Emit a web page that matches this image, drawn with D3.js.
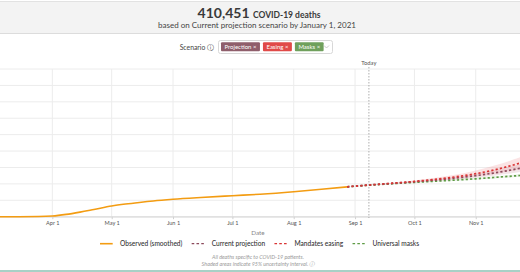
<!DOCTYPE html>
<html>
<head>
<meta charset="utf-8">
<script src="https://cdn.jsdelivr.net/npm/d3@7"></script>
<style>
  html, body { margin: 0; padding: 0; background: #fff; }
  svg { display: block; font-family: Lato, "Noto Sans", sans-serif; }
</style>
</head>
<body>
<svg id="chart" width="520" height="272"></svg>
<script>
// ---------- data ----------
const headlineValue = "410,451";
const headlineUnit = "COVID-19 deaths";
const subtitle = "based on Current projection scenario by January 1, 2021";
const scenarioLabels = ["Projection", "Easing", "Masks"];
const scenarioColors = ["#8f5e6b", "#e04a48", "#6fa05c"];
const todayDate = "2020-09-08";

const observedDates = ["2020-03-01","2020-03-15","2020-03-25","2020-04-01","2020-04-08","2020-04-15","2020-04-22","2020-05-01","2020-05-08","2020-05-15","2020-05-22","2020-06-01","2020-06-15","2020-07-01","2020-07-15","2020-08-01","2020-08-15","2020-08-28"];
const observedValues = [0, 100, 800, 4000, 14000, 28000, 44000, 65000, 77000, 87000, 96000, 106000, 117000, 128000, 137000, 152000, 167000, 182000];

const projDates = ["2020-08-28","2020-09-08","2020-09-20","2020-10-01","2020-10-10","2020-10-20","2020-11-01","2020-11-10","2020-11-20","2020-11-30"];
const currentValues = [182000, 193000, 203000, 213000, 222000, 233000, 250000, 266000, 287000, 312000];
const currentLower  = [182000, 192000, 201000, 209000, 216000, 225000, 238000, 250000, 266000, 285000];
const currentUpper  = [182000, 194000, 205000, 218000, 228000, 242000, 264000, 284000, 310000, 342000];
const easingValues  = [182000, 193000, 204000, 215000, 226000, 240000, 262000, 284000, 315000, 350000];
const easingLower   = [182000, 192000, 201000, 210000, 218000, 228000, 245000, 260000, 282000, 305000];
const easingUpper   = [182000, 194000, 207000, 221000, 234000, 252000, 282000, 310000, 348000, 395000];
const masksValues   = [182000, 192000, 201000, 209000, 215000, 222000, 231000, 239000, 248000, 257000];
const masksLower    = [182000, 191000, 199000, 206000, 211000, 217000, 225000, 232000, 240000, 248000];
const masksUpper    = [182000, 193000, 203000, 212000, 219000, 227000, 237000, 246000, 256000, 267000];

const yTicks = [0, 100000, 200000, 300000, 400000, 500000, 600000, 700000, 800000, 900000];
const legendLabels = ["Observed (smoothed)", "Current projection", "Mandates easing", "Universal masks"];
const legendColors = ["#f39c12", "#8c4a5c", "#d93434", "#5e9b45"];
const footnotes = ["All deaths specific to COVID-19 patients.", "Shaded areas indicate 95% uncertainty interval. \u24D8"];

// ---------- setup ----------
const parse = d3.timeParse("%Y-%m-%d");
const svg = d3.select("#chart");
const W = 520;

svg.append("rect").attr("width", 520).attr("height", 272).attr("fill", "#fff");

// header band
svg.append("rect").attr("x", 0).attr("y", 2).attr("width", W).attr("height", 31)
  .attr("fill", "#f3f3f3");
svg.append("line").attr("x1", 0).attr("x2", W).attr("y1", 1.5).attr("y2", 1.5).attr("stroke", "#e2e2e2");
svg.append("line").attr("x1", 0).attr("x2", W).attr("y1", 33.5).attr("y2", 33.5).attr("stroke", "#dcdcdc");

const title = svg.append("text").attr("x", 259).attr("y", 17.5).attr("text-anchor", "middle").attr("fill", "#3a3a3a");
title.append("tspan").attr("font-size", 14).attr("font-weight", 700).text(headlineValue + " ");
title.append("tspan").attr("font-size", 8.5).attr("font-weight", 700).text(headlineUnit);
svg.append("text").attr("x", 257).attr("y", 28).attr("text-anchor", "middle")
  .attr("font-size", 8).attr("fill", "#444").text(subtitle);

// scenario selector
svg.append("text").attr("x", 214).attr("y", 49.5).attr("text-anchor", "end")
  .attr("font-size", 6.8).attr("fill", "#444").text("Scenario \u24D8");
svg.append("rect").attr("x", 218.5).attr("y", 40.5).attr("width", 114).attr("height", 13).attr("rx", 2)
  .attr("fill", "#fff").attr("stroke", "#d8d8d8");
let bx = 221;
scenarioLabels.forEach((lab, i) => {
  const g = svg.append("g");
  const t = g.append("text").attr("x", bx + 3.5).attr("y", 49.2).attr("font-size", 6).attr("fill", "#fff").text(lab + " \u00D7");
  const w = t.node().getComputedTextLength() + 7;
  g.insert("rect", "text").attr("x", bx).attr("y", 42.3).attr("width", w).attr("height", 9).attr("rx", 1).attr("fill", scenarioColors[i]);
  bx += w + 3;
});
svg.append("path").attr("d", "M324,45.5 L326.5,48 L329,45.5").attr("fill", "none").attr("stroke", "#bbb").attr("stroke-width", 0.8);

// ---------- scales ----------
const x = d3.scaleTime().domain([parse("2020-03-01"), parse("2020-12-01")]).range([-9, 535.1]);
const y = d3.scaleLinear().domain([0, 900000]).range([216.7, 69]);

const plot = svg.append("g");
svg.append("clipPath").attr("id", "clip").append("rect").attr("x", 0).attr("y", 60).attr("width", W).attr("height", 160);

// grid
const monthTicks = x.ticks(d3.timeMonth.every(1)).filter(d => x(d) > 0 && x(d) < W);
plot.selectAll(".hg").data(yTicks).join("line")
  .attr("x1", 0).attr("x2", W).attr("y1", d => y(d)).attr("y2", d => y(d))
  .attr("stroke", "#ececec").attr("stroke-width", 1);
plot.selectAll(".vg").data(monthTicks).join("line")
  .attr("x1", d => x(d)).attr("x2", d => x(d)).attr("y1", y(900000)).attr("y2", y(0))
  .attr("stroke", "#ececec").attr("stroke-width", 1);

// axis
const axis = d3.axisBottom(x).tickValues(monthTicks).tickFormat(d3.timeFormat("%b %-d")).tickSize(2.5).tickPadding(2.2);
const ax = svg.append("g").attr("transform", `translate(0,${y(0)})`).call(axis);
ax.select(".domain").remove();
ax.selectAll(".tick line").attr("stroke", "#d0d0d0");
ax.selectAll(".tick text").attr("font-size", 5.6).attr("fill", "#555").attr("font-family", "Lato, sans-serif");
svg.append("line").attr("x1", 0).attr("x2", W).attr("y1", y(0) + 0.3).attr("y2", y(0) + 0.3)
  .attr("stroke", "#d4d4d4").attr("stroke-width", 1.2);

svg.append("text").attr("x", 258).attr("y", 234.5).attr("text-anchor", "middle")
  .attr("font-size", 6.3).attr("fill", "#888").text("Date");

// today line
const tx = x(parse(todayDate));
svg.append("line").attr("x1", tx).attr("x2", tx).attr("y1", 67).attr("y2", 218)
  .attr("stroke", "#999").attr("stroke-width", 0.8).attr("stroke-dasharray", "1.5,1.5");
svg.append("text").attr("x", tx).attr("y", 65).attr("text-anchor", "middle")
  .attr("font-size", 5.8).attr("fill", "#555").text("Today");

// ---------- series ----------
const marks = svg.append("g").attr("clip-path", "url(#clip)");
const pd = projDates.map(parse);
const area = (lo, hi) => d3.area().x((d, i) => x(pd[i])).y0((d, i) => y(lo[i])).y1((d, i) => y(hi[i])).curve(d3.curveMonotoneX)(lo);
marks.append("path").attr("d", area(masksLower, masksUpper)).attr("fill", "#9cc48a").attr("opacity", 0.18);
marks.append("path").attr("d", area(currentLower, currentUpper)).attr("fill", "#c98a96").attr("opacity", 0.22);
marks.append("path").attr("d", area(easingLower, easingUpper)).attr("fill", "#ef8f95").attr("opacity", 0.25);

const od = observedDates.map(parse);
const lineGen = (dates) => d3.line().x((d, i) => x(dates[i])).y(d => y(d)).curve(d3.curveMonotoneX);
marks.append("path").attr("d", lineGen(od)(observedValues)).attr("fill", "none")
  .attr("stroke", legendColors[0]).attr("stroke-width", 1.6);

const projSeries = [[masksValues, legendColors[3]], [currentValues, legendColors[1]], [easingValues, legendColors[2]]];
projSeries.forEach(([vals, col]) => {
  marks.append("path").attr("d", lineGen(pd)(vals)).attr("fill", "none")
    .attr("stroke", col).attr("stroke-width", 1.7).attr("stroke-dasharray", "2.2,2.2");
});

// ---------- legend ----------
const leg = svg.append("g");
let lx = 100;
legendLabels.forEach((lab, i) => {
  if (i === 0) {
    leg.append("line").attr("x1", lx).attr("x2", lx + 12.7).attr("y1", 243.7).attr("y2", 243.7)
      .attr("stroke", legendColors[i]).attr("stroke-width", 1.6);
  } else {
    leg.append("line").attr("x1", lx).attr("x2", lx + 13).attr("y1", 243.7).attr("y2", 243.7)
      .attr("stroke", legendColors[i]).attr("stroke-width", 1.3).attr("stroke-dasharray", "2.6,2.2");
  }
  const t = leg.append("text").attr("x", lx + 20).attr("y", 246.1).attr("font-size", 6.6)
    .attr("font-weight", 500).attr("fill", "#333").text(lab);
  lx += 20 + t.node().getComputedTextLength() + 9.3;
});

// footnotes
footnotes.forEach((f, i) => {
  svg.append("text").attr("x", 258).attr("y", 259.2 + i * 7).attr("text-anchor", "middle")
    .attr("font-size", 5.4).attr("font-style", "italic").attr("fill", "#999").text(f);
});

// bottom rule
svg.append("rect").attr("x", 0).attr("y", 270).attr("width", W).attr("height", 2).attr("fill", "#a8d0c6");
</script>
</body>
</html>
